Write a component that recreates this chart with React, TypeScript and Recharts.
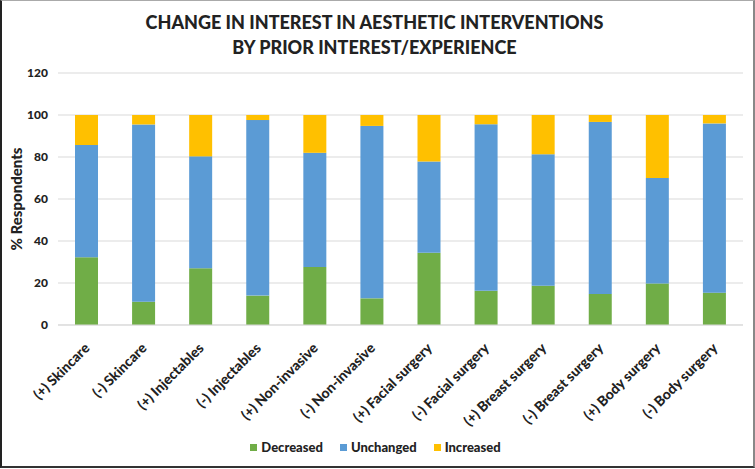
import { BarChart, Bar, XAxis, YAxis, CartesianGrid, Legend } from 'recharts'

const categories = [
  '(+) Skincare',
  '(-) Skincare',
  '(+) Injectables',
  '(-) Injectables',
  '(+) Non-invasive',
  '(-) Non-invasive',
  '(+) Facial surgery',
  '(-) Facial surgery',
  '(+) Breast surgery',
  '(-) Breast surgery',
  '(+) Body surgery',
  '(-) Body surgery',
]
const seriesNames = ['Decreased', 'Unchanged', 'Increased']
const decreased = [32.3, 11.1, 27, 14, 27.6, 12.7, 34.4, 16.3, 18.7, 14.8, 19.8, 15.4]
const unchanged = [53.4, 84.4, 53.3, 83.6, 54.4, 82.1, 43.4, 79.3, 62.6, 81.9, 50.2, 80.6]
const increased = [14.3, 4.5, 19.7, 2.4, 18, 5.2, 22.2, 4.4, 18.7, 3.3, 30, 4]
const yTicks = [0, 20, 40, 60, 80, 100, 120]

const data = categories.map((name, i) => ({
  name,
  Decreased: decreased[i],
  Unchanged: unchanged[i],
  Increased: increased[i],
}))

const FONT = "Lato, 'Open Sans', sans-serif"

const XTick = ({ x, y, payload }: any) => {
  const tx = x + 4
  const ty = y + 16
  return (
    <text
      x={tx}
      y={ty}
      transform={`rotate(-45 ${tx} ${ty})`}
      textAnchor="end"
      fontSize={14}
      fontWeight={900}
      fontFamily={FONT}
      fill="#222"
    >
      {payload.value}
    </text>
  )
}

const YLabel = ({ viewBox }: any) => {
  const cy = viewBox.y + viewBox.height / 2
  return (
    <text
      x={22}
      y={cy}
      transform={`rotate(-90 22 ${cy})`}
      textAnchor="middle"
      fontSize={15}
      fontWeight={900}
      fontFamily={FONT}
      fill="#222"
    >
      % Respondents
    </text>
  )
}

const LegendContent = ({ payload }: any) => (
  <div style={{ display: 'flex', justifyContent: 'center', paddingLeft: 8 }}>
    {(payload || []).map((p: any, i: number) => (
      <div key={p.value} style={{ display: 'flex', alignItems: 'center', marginLeft: i ? 17 : 0 }}>
        <span style={{ width: 7, height: 7, background: p.color, marginRight: 4 }} />
        <span style={{ fontSize: 13, fontWeight: 900, color: '#222' }}>{p.value}</span>
      </div>
    ))}
  </div>
)

export default function App() {
  return (
    <div
      style={{
        position: 'absolute',
        left: 0,
        top: 0,
        width: 751,
        height: 465,
        borderLeft: '2px solid #222',
        borderTop: '1px solid #aaa',
        borderRight: '2px solid #888',
        borderBottom: '2px solid #333',
        background: '#fff',
        fontFamily: FONT,
      }}
    >
      <div
        style={{
          position: 'absolute',
          left: 0,
          top: 9,
          width: 745,
          textAlign: 'center',
          fontSize: 18,
          fontWeight: 900,
          lineHeight: '25px',
          color: '#222',
        }}
      >
        CHANGE IN INTEREST IN AESTHETIC INTERVENTIONS
        <br />
        BY PRIOR INTEREST/EXPERIENCE
      </div>
      <div style={{ position: 'absolute', left: -2, top: -1 }}>
        <BarChart
          width={755}
          height={469}
          data={data}
          margin={{ top: 73, right: 12, left: 0, bottom: 6 }}
          barSize={23}
        >
          <CartesianGrid vertical={false} stroke="#d9d9d9" />
          <XAxis
            dataKey="name"
            interval={0}
            height={114}
            tick={<XTick />}
            tickLine={false}
            axisLine={{ stroke: '#d9d9d9' }}
          />
          <YAxis
            width={58}
            domain={[0, 120]}
            ticks={yTicks}
            tickLine={false}
            axisLine={false}
            tickSize={0}
            tickMargin={10}
            tick={{ fontSize: 12, fontWeight: 900, fill: '#222', fontFamily: FONT }}
            label={<YLabel />}
          />
          <Legend
            verticalAlign="bottom"
            align="center"
            height={24}
            itemSorter={(item: any) => seriesNames.indexOf(item.value)}
            content={<LegendContent />}
          />
          <Bar dataKey="Decreased" stackId="a" fill="#70AD47" isAnimationActive={false} />
          <Bar dataKey="Unchanged" stackId="a" fill="#5B9BD5" isAnimationActive={false} />
          <Bar dataKey="Increased" stackId="a" fill="#FFC000" isAnimationActive={false} />
        </BarChart>
      </div>
    </div>
  )
}
